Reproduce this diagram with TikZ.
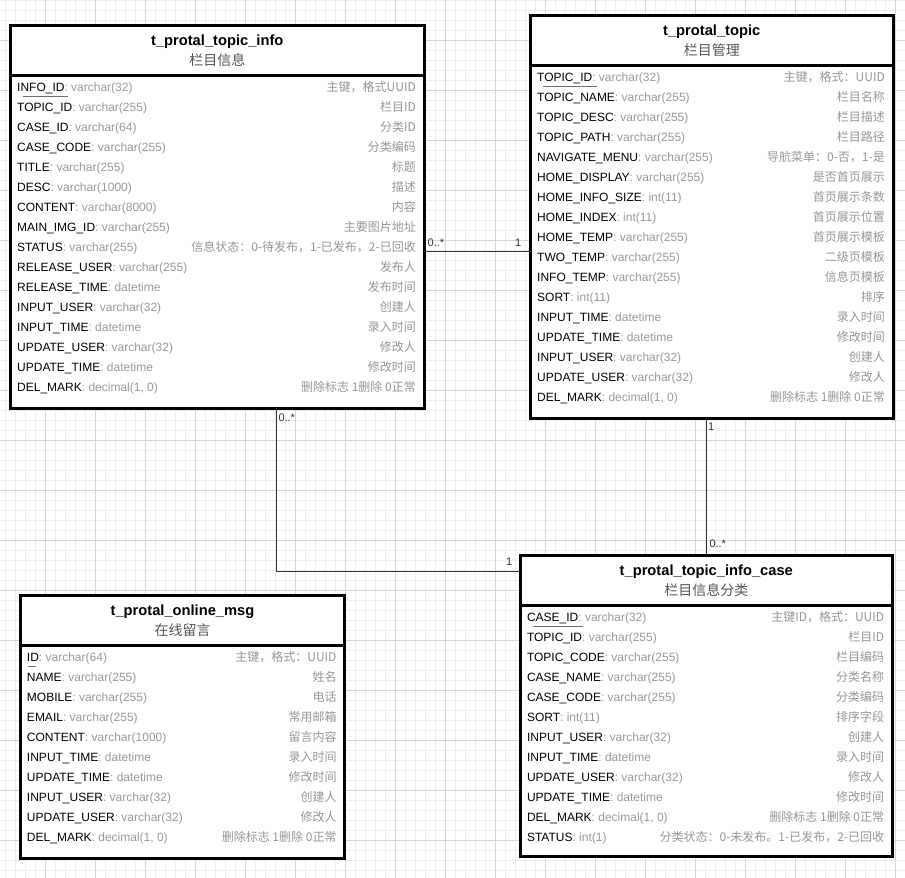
\documentclass[tikz,border=0pt]{standalone}
\usepackage{fontspec}
\setmainfont{Liberation Sans}
\newfontfamily\cjk{Noto Sans CJK SC}
\usetikzlibrary{calc}
\definecolor{gmin}{RGB}{238,238,238}
\definecolor{gmaj}{RGB}{214,214,214}
\definecolor{typegray}{RGB}{153,153,153}
\definecolor{cmtgray}{RGB}{150,150,150}
\definecolor{subgray}{RGB}{85,85,85}
\definecolor{conncol}{RGB}{51,51,51}
\definecolor{ulgray}{RGB}{110,110,110}
\tikzset{
  tbl/.style={draw=black, line width=3pt, fill=white, anchor=north west, outer sep=0pt, inner sep=0pt},
  sepline/.style={draw=black, line width=3pt},
  ttl/.style={anchor=base, inner sep=0pt, font=\bfseries\fontsize{14.7}{16}\selectfont},
  subttl/.style={anchor=base, inner sep=0pt, text=subgray, font=\cjk\fontsize{14}{16}\selectfont},
  fld/.style={anchor=base west, inner sep=0pt, font=\fontsize{12}{14}\selectfont},
  cmt/.style={anchor=base east, inner sep=0pt, text=cmtgray, font=\cjk\fontsize{12}{14}\selectfont},
  conn/.style={draw=conncol, line width=1pt},
  lbl/.style={anchor=base west, inner sep=0pt, text=conncol, font=\fontsize{11}{13}\selectfont},
  ul/.style={draw=ulgray, line width=1pt},
  gminor/.style={draw=gmin, line width=1pt},
  gmajor/.style={draw=gmaj, line width=1pt}
}
\newcommand\mktable[7]{%
  \node[tbl, minimum width=#4pt, minimum height=#5pt] (#1) at (#2,#3) {};
  \draw[sepline] ([yshift=-50pt]#1.north west) -- ([yshift=-50pt]#1.north east);
  \node[ttl] (#1-t) at ([yshift=-20.3pt]#1.north) {#6};
  \node[subttl] (#1-s) at ([yshift=-40pt]#1.north) {#7};
}
\newcommand\trow[5]{%
  \node[fld] (#1-f#2) at ([xshift=6.5pt, yshift={-(66+20*#2)*1pt}]#1.north west) {#3\textcolor{typegray}{: #4}};
  \node[cmt] (#1-c#2) at ([xshift=-8pt, yshift={-(66+20*#2)*1pt}]#1.north east) {#5};
}
\begin{document}
\begin{tikzpicture}[x=1pt, y=-1pt]
\useasboundingbox (0,0) rectangle (905,878);
\fill[white] (0,0) rectangle (905,878);
\foreach \x in {5,15,...,905} \draw[gminor] (\x,0) -- (\x,878);
\foreach \y in {0,10,...,870} \draw[gminor] (0,\y) -- (905,\y);
\foreach \x in {45,95,...,895} \draw[gmajor] (\x,0) -- (\x,878);
\foreach \y in {40,90,...,840} \draw[gmajor] (0,\y) -- (905,\y);

% table 1
\mktable{t1}{10.5}{25.5}{413.5}{382.5}{t\_protal\_topic\_info}{栏目信息}
\trow{t1}{0}{INFO\_ID}{varchar(32)}{主键，格式UUID}
\trow{t1}{1}{TOPIC\_ID}{varchar(255)}{栏目ID}
\trow{t1}{2}{CASE\_ID}{varchar(64)}{分类ID}
\trow{t1}{3}{CASE\_CODE}{varchar(255)}{分类编码}
\trow{t1}{4}{TITLE}{varchar(255)}{标题}
\trow{t1}{5}{DESC}{varchar(1000)}{描述}
\trow{t1}{6}{CONTENT}{varchar(8000)}{内容}
\trow{t1}{7}{MAIN\_IMG\_ID}{varchar(255)}{主要图片地址}
\trow{t1}{8}{STATUS}{varchar(255)}{信息状态：0-待发布，1-已发布，2-已回收}
\trow{t1}{9}{RELEASE\_USER}{varchar(255)}{发布人}
\trow{t1}{10}{RELEASE\_TIME}{datetime}{发布时间}
\trow{t1}{11}{INPUT\_USER}{varchar(32)}{创建人}
\trow{t1}{12}{INPUT\_TIME}{datetime}{录入时间}
\trow{t1}{13}{UPDATE\_USER}{varchar(32)}{修改人}
\trow{t1}{14}{UPDATE\_TIME}{datetime}{修改时间}
\trow{t1}{15}{DEL\_MARK}{decimal(1, 0)}{删除标志 1删除 0正常}
\draw[ul] ([xshift=12.2pt,yshift=-71.2pt]t1.north west) -- ++(45.6,0);

% table 2
\mktable{t2}{530.5}{15.3}{362.5}{403.4}{t\_protal\_topic}{栏目管理}
\trow{t2}{0}{TOPIC\_ID}{varchar(32)}{主键，格式：UUID}
\trow{t2}{1}{TOPIC\_NAME}{varchar(255)}{栏目名称}
\trow{t2}{2}{TOPIC\_DESC}{varchar(255)}{栏目描述}
\trow{t2}{3}{TOPIC\_PATH}{varchar(255)}{栏目路径}
\trow{t2}{4}{NAVIGATE\_MENU}{varchar(255)}{导航菜单：0-否，1-是}
\trow{t2}{5}{HOME\_DISPLAY}{varchar(255)}{是否首页展示}
\trow{t2}{6}{HOME\_INFO\_SIZE}{int(11)}{首页展示条数}
\trow{t2}{7}{HOME\_INDEX}{int(11)}{首页展示位置}
\trow{t2}{8}{HOME\_TEMP}{varchar(255)}{首页展示模板}
\trow{t2}{9}{TWO\_TEMP}{varchar(255)}{二级页模板}
\trow{t2}{10}{INFO\_TEMP}{varchar(255)}{信息页模板}
\trow{t2}{11}{SORT}{int(11)}{排序}
\trow{t2}{12}{INPUT\_TIME}{datetime}{录入时间}
\trow{t2}{13}{UPDATE\_TIME}{datetime}{修改时间}
\trow{t2}{14}{INPUT\_USER}{varchar(32)}{创建人}
\trow{t2}{15}{UPDATE\_USER}{varchar(32)}{修改人}
\trow{t2}{16}{DEL\_MARK}{decimal(1, 0)}{删除标志 1删除 0正常}
\draw[ul] ([xshift=12.5pt,yshift=-71.4pt]t2.north west) -- ++(53.7,0);

% table 3
\mktable{t3}{520.3}{555.3}{372}{301.4}{t\_protal\_topic\_info\_case}{栏目信息分类}
\trow{t3}{0}{CASE\_ID}{varchar(32)}{主键ID，格式：UUID}
\trow{t3}{1}{TOPIC\_ID}{varchar(255)}{栏目ID}
\trow{t3}{2}{TOPIC\_CODE}{varchar(255)}{栏目编码}
\trow{t3}{3}{CASE\_NAME}{varchar(255)}{分类名称}
\trow{t3}{4}{CASE\_CODE}{varchar(255)}{分类编码}
\trow{t3}{5}{SORT}{int(11)}{排序字段}
\trow{t3}{6}{INPUT\_USER}{varchar(32)}{创建人}
\trow{t3}{7}{INPUT\_TIME}{datetime}{录入时间}
\trow{t3}{8}{UPDATE\_USER}{varchar(32)}{修改人}
\trow{t3}{9}{UPDATE\_TIME}{datetime}{修改时间}
\trow{t3}{10}{DEL\_MARK}{decimal(1, 0)}{删除标志 1删除 0正常}
\trow{t3}{11}{STATUS}{int(1)}{分类状态：0-未发布。1-已发布，2-已回收}
\draw[ul] ([xshift=12.7pt,yshift=-70.7pt]t3.north west) -- ++(50,0);

% table 4
\mktable{t4}{20.3}{595.5}{324.4}{262.5}{t\_protal\_online\_msg}{在线留言}
\trow{t4}{0}{ID}{varchar(64)}{主键，格式：UUID}
\trow{t4}{1}{NAME}{varchar(255)}{姓名}
\trow{t4}{2}{MOBILE}{varchar(255)}{电话}
\trow{t4}{3}{EMAIL}{varchar(255)}{常用邮箱}
\trow{t4}{4}{CONTENT}{varchar(1000)}{留言内容}
\trow{t4}{5}{INPUT\_TIME}{datetime}{录入时间}
\trow{t4}{6}{UPDATE\_TIME}{datetime}{修改时间}
\trow{t4}{7}{INPUT\_USER}{varchar(32)}{创建人}
\trow{t4}{8}{UPDATE\_USER}{varchar(32)}{修改人}
\trow{t4}{9}{DEL\_MARK}{decimal(1, 0)}{删除标志 1删除 0正常}
\draw[ul] ([xshift=8pt,yshift=-70.5pt]t4.north west) -- ++(7.7,0);

% connectors
\coordinate (c1s) at (t1.east |- 0,251.5);
\coordinate (c1e) at (t2.west |- 0,251.5);
\coordinate (c2s) at (t1.south -| 276,0);
\coordinate (c2e) at (t3.west |- 0,571);
\coordinate (c3s) at (t2.south -| 706,0);
\coordinate (c3e) at (t3.north -| 706,0);
\draw[conn] (c1s) -- (c1e);
\draw[conn] (c2s) |- (c2e);
\draw[conn] (c3s) -- (c3e);
\node[lbl] (l1a) at ([shift={(3.5,-5)}]c1s) {0..*};
\node[lbl] (l1b) at ([shift={(-15.5,-5)}]c1e) {1};
\node[lbl] (l2a) at ([shift={(2.3,13)}]c2s) {0..*};
\node[lbl] (l2b) at ([shift={(-14.5,-6)}]c2e) {1};
\node[lbl] (l3a) at ([shift={(2,12)}]c3s) {1};
\node[lbl] (l3b) at ([shift={(3.3,-7.5)}]c3e) {0..*};
\end{tikzpicture}
\end{document}
